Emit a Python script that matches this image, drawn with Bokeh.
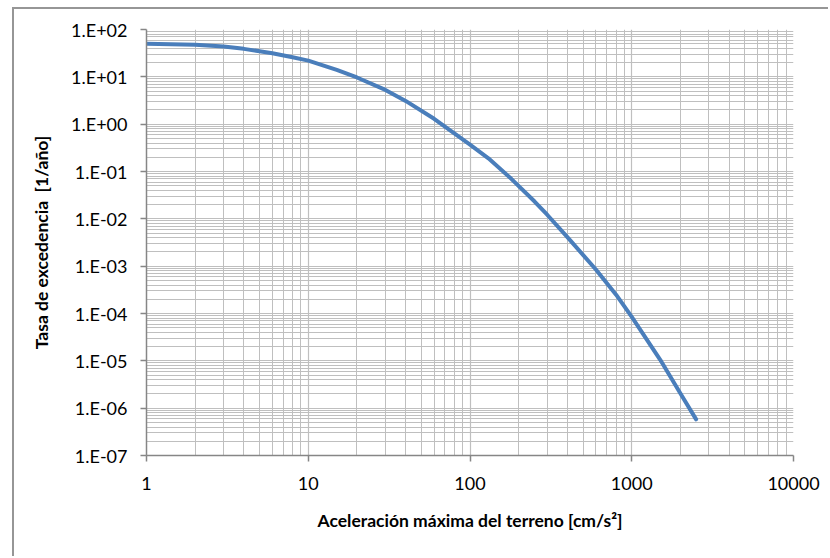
from bokeh.plotting import figure
from bokeh.models import FixedTicker, CustomJSTickFormatter, Range1d
from bokeh.embed import file_html
from bokeh.resources import INLINE

# Data
aceleracion = [1, 2, 3, 4, 5, 6, 8, 10, 15, 20, 30, 40, 60, 80, 100, 130, 180,
               250, 300, 400, 600, 800, 1000, 1500, 2000, 2500]
tasa = [50, 47.5, 43.8, 39, 34.8, 31.6, 26, 22, 14, 9.7, 5.3, 3.1, 1.3, 0.64,
        0.37, 0.19, 0.07, 0.0235, 0.0122, 0.0041, 8.5e-04, 2.5e-04, 8.5e-05,
        1.05e-05, 2.05e-06, 5.8e-07]

x_ticks = [1, 10, 100, 1000, 10000]
y_ticks = [1e-7, 1e-6, 1e-5, 1e-4, 1e-3, 1e-2, 1e-1, 1e0, 1e1, 1e2]

FONT = "Lato"
GRID = "#bfbfbf"
AXIS = "#868686"

p = figure(width=816, height=549, x_axis_type="log", y_axis_type="log",
           x_range=Range1d(1, 10000), y_range=Range1d(1e-7, 1e2),
           output_backend="svg", toolbar_location=None,
           min_border_left=132, min_border_right=37,
           min_border_top=20, min_border_bottom=103,
           margin=(7, 0, 0, 12),
           background_fill_color="white", border_fill_color="white")
p.outline_line_color = None
p.styles = {"border-left": "2px solid #969696", "border-top": "2px solid #969696"}

def minors(ticks):
    out = []
    for t in ticks[:-1]:
        for k in range(2, 10):
            out.append(t * k)
    return out

p.xaxis.ticker = FixedTicker(ticks=x_ticks, minor_ticks=minors(x_ticks))
p.yaxis.ticker = FixedTicker(ticks=y_ticks, minor_ticks=minors(y_ticks))

p.yaxis.formatter = CustomJSTickFormatter(code="""
const e = Math.round(Math.log10(tick));
const s = e < 0 ? '-' : '+';
const a = Math.abs(e);
return '1.E' + s + (a < 10 ? '0' : '') + a;
""")
p.xaxis.formatter = CustomJSTickFormatter(code="return String(Math.round(tick));")

for ax in (p.xaxis, p.yaxis):
    ax.axis_line_color = AXIS
    ax.axis_line_width = 1.5
    ax.major_tick_line_color = AXIS
    ax.major_tick_line_width = 1.5
    ax.major_tick_out = 6
    ax.major_tick_in = 0
    ax.minor_tick_line_color = None
    ax.major_label_text_font = FONT
    ax.major_label_text_font_size = "18px"
    ax.major_label_text_color = "#000000"
    ax.axis_label_text_font = FONT
    ax.axis_label_text_font_style = "bold"
    ax.axis_label_text_font_size = "17.5px"
    ax.axis_label_text_color = "#000000"

p.xaxis.axis_label = "Aceleración máxima del terreno [cm/s²]"
p.yaxis.axis_label = "Tasa de excedencia\u00a0 [1/año]"
p.xaxis.major_label_standoff = 15
p.yaxis.major_label_standoff = 13
p.xaxis.axis_label_standoff = 17
p.yaxis.axis_label_standoff = 16

for g in (p.xgrid, p.ygrid):
    g.grid_line_color = GRID
    g.grid_line_width = 1.2
    g.minor_grid_line_color = GRID
    g.minor_grid_line_width = 1

p.line(aceleracion, tasa, line_color="#4A7EBB", line_width=4,
       line_join="round", line_cap="round")

open("out.html", "w").write(file_html(p, INLINE))
